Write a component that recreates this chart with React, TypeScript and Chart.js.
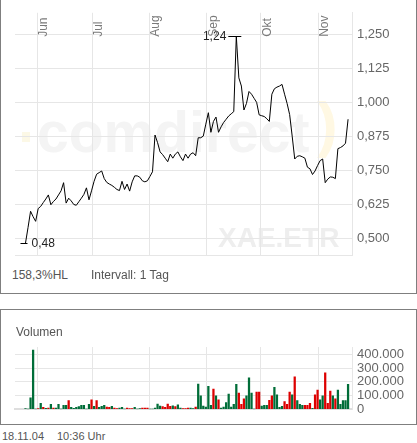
import React, { useEffect, useRef } from "react";
import { Chart, registerables } from "chart.js";

Chart.register(...registerables);

// ---- data (one entry per trading day, 25.05.04 – 18.11.04) ----
const closes = [
  0.483, 0.54, 0.6, 0.58, 0.563, 0.61, 0.618, 0.632, 0.645, 0.66,
  0.624, 0.636, 0.645, 0.66, 0.675, 0.705, 0.63, 0.648, 0.638, 0.625,
  0.622, 0.635, 0.648, 0.662, 0.686, 0.642, 0.675, 0.71, 0.736, 0.742,
  0.748, 0.72, 0.706, 0.7, 0.695, 0.688, 0.68, 0.676, 0.71, 0.68,
  0.7, 0.674, 0.708, 0.73, 0.73, 0.725, 0.712, 0.708, 0.712, 0.728,
  0.745, 0.88, 0.852, 0.818, 0.808, 0.795, 0.782, 0.81, 0.795, 0.81,
  0.818, 0.8, 0.786, 0.81, 0.795, 0.81, 0.815, 0.804, 0.87, 0.87,
  0.876, 0.92, 0.962, 0.89, 0.93, 0.946, 0.89, 0.91, 0.926, 0.938,
  0.95, 0.958, 0.966, 1.243, 1.09, 1.06, 0.972, 0.996, 1.04, 1.03,
  1.015, 1.0, 0.954, 0.951, 0.948, 0.94, 0.93, 1.03, 1.05, 1.056,
  1.06, 1.066, 1.03, 0.996, 0.955, 0.876, 0.792, 0.802, 0.804, 0.8,
  0.795, 0.762, 0.756, 0.735, 0.748, 0.768, 0.786, 0.792, 0.705, 0.718,
  0.726, 0.725, 0.72, 0.83, 0.834, 0.84, 0.85, 0.938,
];

const volumes = [
  5000, 0, 83000, 430000, 0, 5000, 42000, 14000, 7000, 9000,
  35000, 9000, 9000, 35000, 0, 28000, 28000, 62000, 14000, 7000,
  14000, 19000, 28000, 28000, 0, 35000, 69000, 21000, 62000, 14000,
  21000, 28000, 16000, 14000, 21000, 9000, 5000, 9000, 14000, 0,
  9000, 5000, 5000, 14000, 0, 5000, 9000, 9000, 9000, 0,
  0, 9000, 37000, 23000, 19000, 14000, 37000, 21000, 25000, 19000,
  32000, 9000, 5000, 5000, 9000, 9000, 5000, 16000, 183000, 97000,
  23000, 16000, 167000, 28000, 146000, 97000, 69000, 9000, 16000, 49000,
  111000, 16000, 35000, 181000, 118000, 35000, 76000, 97000, 229000, 118000,
  0, 125000, 125000, 23000, 28000, 28000, 65000, 97000, 160000, 104000,
  14000, 21000, 56000, 35000, 125000, 104000, 236000, 62000, 35000, 28000,
  28000, 28000, 42000, 7000, 104000, 139000, 69000, 97000, 264000, 42000,
  132000, 97000, 76000, 139000, 35000, 62000, 62000, 181000,
];

// 1 = day closed up (green bar), 0 = down (red bar)
const volumeUp = [
  1, 1, 1, 1, 1, 0, 1, 0, 1, 0,
  1, 0, 1, 1, 1, 1, 1, 0, 1, 1,
  1, 1, 1, 1, 1, 1, 0, 1, 0, 1,
  1, 1, 0, 0, 1, 0, 0, 1, 1, 1,
  0, 0, 0, 1, 1, 1, 0, 0, 0, 1,
  1, 1, 1, 1, 0, 0, 0, 0, 1, 0,
  1, 1, 0, 0, 0, 1, 1, 0, 1, 1,
  1, 1, 1, 1, 0, 1, 0, 1, 1, 1,
  1, 1, 1, 1, 0, 0, 0, 1, 1, 1,
  1, 0, 0, 1, 1, 1, 0, 0, 1, 1,
  1, 1, 0, 0, 0, 1, 0, 1, 1, 1,
  0, 0, 0, 1, 0, 0, 1, 1, 0, 0,
  0, 1, 0, 1, 1, 1, 1, 1,
];

const monthLabels = ["Jun", "Jul", "Aug", "Sep", "Okt", "Nov"];
const monthStarts = [4.65, 26.3, 48.8, 71.4, 92.6, 115.2]; // in trading-day index units
const priceTicks = [0.5, 0.625, 0.75, 0.875, 1.0, 1.125, 1.25];
const volumeTicks = [0, 100000, 200000, 300000, 400000];

const FONT = '"Liberation Sans", Arial, sans-serif';
const GRID = "#e6e6e6";
const X_MIN = -4.13;
const X_MAX = 128.55;
const GREEN = "#006d38";
const RED = "#dd0000";

const fmtPrice = (v: number) => v.toFixed(3).replace(".", ",");
const fmtHL = (v: number) => v.toFixed(2).replace(".", ",");
const fmtVol = (v: number) =>
  String(Math.round(v)).replace(/\B(?=(\d{3})+(?!\d))/g, ".");

const watermarkPlugin = {
  id: "watermark",
  beforeDraw(chart: any) {
    const ctx = chart.ctx;
    ctx.save();
    ctx.fillStyle = "#fcf8e6";
    ctx.fillRect(22, 132, 8, 10);
    ctx.font = `bold 57px ${FONT}`;
    ctx.fillStyle = "#f4f4f4";
    ctx.textBaseline = "alphabetic";
    ctx.textAlign = "left";
    ctx.fillText("comdirect", 37, 152);
    ctx.font = `bold 62px ${FONT}`;
    ctx.fillStyle = "#fff8e3";
    ctx.fillText(")", 317, 145);
    ctx.font = `bold 28px ${FONT}`;
    ctx.fillStyle = "#eeeeee";
    ctx.fillText("XAE.ETR", 218, 247);
    ctx.restore();
  },
};

const monthLabelPlugin = {
  id: "monthLabels",
  afterDraw(chart: any) {
    const { ctx, chartArea } = chart;
    const x = chart.scales.x;
    ctx.save();
    ctx.font = `12px ${FONT}`;
    ctx.fillStyle = "#7a7a7a";
    ctx.textAlign = "left";
    ctx.textBaseline = "alphabetic";
    monthStarts.forEach((v, i) => {
      const px = x.getPixelForValue(v);
      ctx.save();
      ctx.translate(px + 10, chartArea.top + 24);
      ctx.rotate(-Math.PI / 2);
      ctx.fillText(monthLabels[i], 0, 0);
      ctx.restore();
    });
    ctx.restore();
  },
};

const hlPlugin = {
  id: "highLow",
  afterDatasetsDraw(chart: any) {
    const { ctx } = chart;
    const x = chart.scales.x;
    const y = chart.scales.y;
    let hi = 0;
    let lo = 0;
    closes.forEach((v, i) => {
      if (v > closes[hi]) hi = i;
      if (v < closes[lo]) lo = i;
    });
    ctx.save();
    ctx.strokeStyle = "#000";
    ctx.lineWidth = 1;
    ctx.fillStyle = "#222";
    ctx.font = `12px ${FONT}`;
    ctx.textBaseline = "middle";
    const hx = x.getPixelForValue(hi);
    const hy = Math.round(y.getPixelForValue(closes[hi])) + 0.5;
    ctx.beginPath();
    ctx.moveTo(hx - 8, hy);
    ctx.lineTo(hx + 5, hy);
    ctx.stroke();
    ctx.textAlign = "right";
    ctx.fillText(fmtHL(closes[hi]), hx - 10, hy);
    const lx = x.getPixelForValue(lo);
    const ly = Math.round(y.getPixelForValue(closes[lo])) + 0.5;
    ctx.beginPath();
    ctx.moveTo(lx - 5, ly);
    ctx.lineTo(lx + 2, ly);
    ctx.stroke();
    ctx.textAlign = "left";
    ctx.fillText(fmtHL(closes[lo]), lx + 6, ly);
    ctx.restore();
  },
};

const monthXAxis = (bottomHeight: number, borderColor: string, borderWidth: number) => ({
  type: "linear" as const,
  min: X_MIN,
  max: X_MAX,
  offset: false,
  afterBuildTicks: (s: any) => {
    s.ticks = monthStarts.map((v) => ({ value: v }));
  },
  afterFit: (s: any) => {
    s.height = bottomHeight;
  },
  ticks: { display: false },
  grid: { color: GRID, drawTicks: false, offset: false },
  border: { display: true, color: borderColor, width: borderWidth },
});

export default function App() {
  const priceRef = useRef<HTMLCanvasElement | null>(null);
  const volRef = useRef<HTMLCanvasElement | null>(null);

  useEffect(() => {
    if (!priceRef.current || !volRef.current) return;
    const tickFont = { family: FONT, size: 13 };
    const priceChart = new Chart(priceRef.current, {
      type: "line",
      data: {
        datasets: [
          {
            data: closes.map((v, i) => ({ x: i, y: v })),
            borderColor: "#000",
            borderWidth: 1,
            pointRadius: 0,
            tension: 0,
            fill: false,
          },
        ],
      },
      options: {
        animation: false,
        responsive: false,
        maintainAspectRatio: false,
        layout: { padding: { top: 11, left: 15, right: 0, bottom: 0 } },
        plugins: { legend: { display: false }, tooltip: { enabled: false } },
        scales: {
          x: monthXAxis(10, GRID, 1) as any,
          y: {
            position: "right",
            min: 0.4386,
            max: 1.329,
            afterBuildTicks: (s: any) => {
              s.ticks = priceTicks.map((v) => ({ value: v }));
            },
            afterFit: (s: any) => {
              s.width = 65;
            },
            ticks: {
              padding: 5,
              autoSkip: false,
              color: "#666",
              font: tickFont,
              callback: (v: any) => fmtPrice(Number(v)),
            },
            grid: { color: GRID, drawTicks: false },
            border: { display: true, color: GRID },
          },
        },
      },
      plugins: [watermarkPlugin, monthLabelPlugin, hlPlugin],
    });

    const volChart = new Chart(volRef.current, {
      type: "bar",
      data: {
        datasets: [
          {
            data: volumes.map((v, i) => ({ x: i, y: v })),
            backgroundColor: volumeUp.map((u) => (u ? GREEN : RED)),
            barThickness: 1.6,
            borderWidth: 0,
          },
        ],
      },
      options: {
        animation: false,
        responsive: false,
        maintainAspectRatio: false,
        layout: { padding: { top: 17, left: 15, right: 0, bottom: 0 } },
        plugins: { legend: { display: false }, tooltip: { enabled: false } },
        scales: {
          x: monthXAxis(10, "#dedede", 2) as any,
          y: {
            position: "right",
            min: 0,
            max: 453000,
            afterBuildTicks: (s: any) => {
              s.ticks = volumeTicks.map((v) => ({ value: v }));
            },
            afterFit: (s: any) => {
              s.width = 65;
            },
            ticks: {
              padding: 5,
              autoSkip: false,
              color: "#666",
              font: tickFont,
              callback: (v: any) => fmtVol(Number(v)),
            },
            grid: { color: GRID, drawTicks: false },
            border: { display: true, color: GRID },
          },
        },
      },
    });

    return () => {
      priceChart.destroy();
      volChart.destroy();
    };
  }, []);

  const textStyle: React.CSSProperties = {
    position: "absolute",
    fontFamily: FONT,
    fontSize: 12,
    lineHeight: "14px",
    color: "#555",
    whiteSpace: "nowrap",
  };

  return (
    <div
      style={{
        position: "absolute",
        left: 0,
        top: 0,
        width: 417,
        height: 443,
        background: "#fff",
        overflow: "hidden",
      }}
    >
      <div
        style={{
          position: "absolute",
          left: 0,
          top: -1,
          width: 417,
          height: 295,
          boxSizing: "border-box",
          border: "1px solid #7f7f7f",
        }}
      />
      <div
        style={{
          position: "absolute",
          left: 0,
          top: 309,
          width: 417,
          height: 116,
          boxSizing: "border-box",
          border: "1px solid #7f7f7f",
        }}
      />
      <canvas
        ref={priceRef}
        width={417}
        height={268}
        style={{ position: "absolute", left: 0, top: 0, width: 417, height: 268 }}
      />
      <canvas
        ref={volRef}
        width={417}
        height={92}
        style={{ position: "absolute", left: 0, top: 330, width: 417, height: 92 }}
      />
      <div style={{ ...textStyle, left: 12, top: 268 }}>158,3%HL</div>
      <div style={{ ...textStyle, left: 91, top: 268 }}>Intervall: 1 Tag</div>
      <div style={{ ...textStyle, left: 16, top: 325 }}>Volumen</div>
      <div style={{ ...textStyle, left: 2, top: 429, fontSize: 11 }}>18.11.04</div>
      <div style={{ ...textStyle, left: 57, top: 429, fontSize: 11 }}>10:36 Uhr</div>
    </div>
  );
}
